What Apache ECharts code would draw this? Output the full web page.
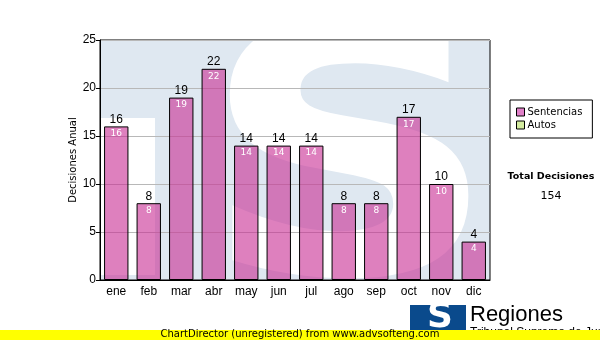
<!DOCTYPE html>
<html>
<head>
<meta charset="utf-8">
<script src="https://cdn.jsdelivr.net/npm/echarts@6/dist/echarts.min.js"></script>
<style>html,body{margin:0;padding:0;background:#fff}#c{width:600px;height:340px}</style>
</head>
<body>
<div id="c"></div>
<script>
const categories = ['ene','feb','mar','abr','may','jun','jul','ago','sep','oct','nov','dic'];
const sentencias = [16, 8, 19, 22, 14, 14, 14, 8, 8, 17, 10, 4];
const autos = [];
const yTicks = { min: 0, max: 25, interval: 5 };
const totalLabel = 'Total Decisiones';
const totalValue = '154';

const chart = echarts.init(document.getElementById('c'), null, { renderer: 'canvas' });
const G = { left: 100, top: 40, width: 390, height: 240 };
const barColor = 'rgba(200,43,147,0.6)';

chart.setOption({
  animation: false,
  grid: { left: G.left, top: G.top, width: G.width, height: G.height, show: true,
          borderColor: '#000', borderWidth: 1, backgroundColor: 'transparent' },
  legend: {
    left: 510, top: 100, width: 82, orient: 'vertical',
    borderColor: '#000', borderWidth: 1, padding: [7, 10, 8, 6],
    itemWidth: 8, itemHeight: 8, itemGap: 3,
    textStyle: { fontFamily: 'DejaVu Sans', fontSize: 10, color: '#000', padding: [0, 0, 0, -2] },
    data: [
      { name: 'Sentencias', icon: 'rect', itemStyle: { color: '#e080c8', borderColor: '#000', borderWidth: 1 } },
      { name: 'Autos', icon: 'rect', itemStyle: { color: '#d4eca0', borderColor: '#000', borderWidth: 1 } }
    ]
  },
  xAxis: {
    type: 'category', data: categories,
    axisLine: { lineStyle: { color: '#000', width: 1 } },
    axisTick: { alignWithLabel: true, length: 4, lineStyle: { color: '#000' } },
    axisLabel: { color: '#000', fontFamily: 'Liberation Sans', fontSize: 12, margin: 6 }
  },
  yAxis: {
    type: 'value', min: yTicks.min, max: yTicks.max, interval: yTicks.interval,
    name: 'Decisiones Anual', nameLocation: 'middle', nameGap: 22, nameMoveOverlap: false,
    nameTextStyle: { fontFamily: 'DejaVu Sans', fontSize: 10, color: '#000' },
    axisLine: { show: true, lineStyle: { color: '#000', width: 1 } },
    axisTick: { show: true, length: 4, lineStyle: { color: '#000' } },
    axisLabel: { color: '#000', fontFamily: 'Liberation Sans', fontSize: 12, margin: 4 },
    splitLine: { lineStyle: { color: '#b8b8b8', width: 1 } }
  },
  series: [
    { name: 'Sentencias', type: 'bar', data: sentencias, barWidth: '75%', z: 3,
      itemStyle: { color: barColor, borderColor: '#000', borderWidth: 1 },
      label: { show: true, position: 'top', distance: 1, color: '#000', fontFamily: 'Liberation Sans', fontSize: 12 } },
    { name: 'inner', type: 'bar', data: sentencias, barWidth: '75%', barGap: '-100%', z: 4, silent: true,
      itemStyle: { color: 'transparent', borderWidth: 0 },
      label: { show: true, position: 'insideTop', distance: 3, color: '#fff', fontFamily: 'DejaVu Sans', fontSize: 9 } },
    { name: 'Autos', type: 'line', data: autos }
  ],
  graphic: [
    { type: 'rect', z: -10, shape: { x: G.left, y: G.top, width: G.width, height: G.height }, style: { fill: '#dfe8f1' } },
    { type: 'rect', z: -9, shape: { x: G.left, y: 118, width: 55, height: 157 }, style: { fill: '#fff' } },
    { type: 'text', z: -9, x: 200, y: 10, scaleX: 1.22, scaleY: 1.02,
      style: { text: 'S', font: 'bold 340px "DejaVu Sans"', fill: '#fff' } },
    { type: 'text', z: 5, x: 551, y: 172, style: { text: totalLabel, font: 'bold 9.5px "DejaVu Sans"', fill: '#000', align: 'center' } },
    { type: 'text', z: 5, x: 551, y: 191, style: { text: totalValue, font: '11px "DejaVu Sans"', fill: '#000', align: 'center' } },
    { type: 'rect', z: 5, shape: { x: 410, y: 305, width: 56, height: 35 }, style: { fill: '#0a4a8c' } },
    { type: 'text', z: 6, x: 440, y: 300, style: { text: 'S', font: 'bold 36px "DejaVu Sans"', fill: '#fff', align: 'center' } },
    { type: 'text', z: 5, x: 470, y: 304, style: { text: 'Regiones', font: '22px "Liberation Sans"', fill: '#000' } },
    { type: 'text', z: 5, x: 470, y: 327, style: { text: 'Tribunal Supremo de Justicia', font: '12px "Liberation Sans"', fill: '#000' } },
    { type: 'rect', z: 20, shape: { x: 0, y: 330, width: 600, height: 10 }, style: { fill: '#ffff00' } },
    { type: 'text', z: 21, x: 300, y: 329, style: { text: 'ChartDirector (unregistered) from www.advsofteng.com', font: '10px "DejaVu Sans"', fill: '#000', align: 'center' } }
  ]
});
</script>
</body>
</html>
